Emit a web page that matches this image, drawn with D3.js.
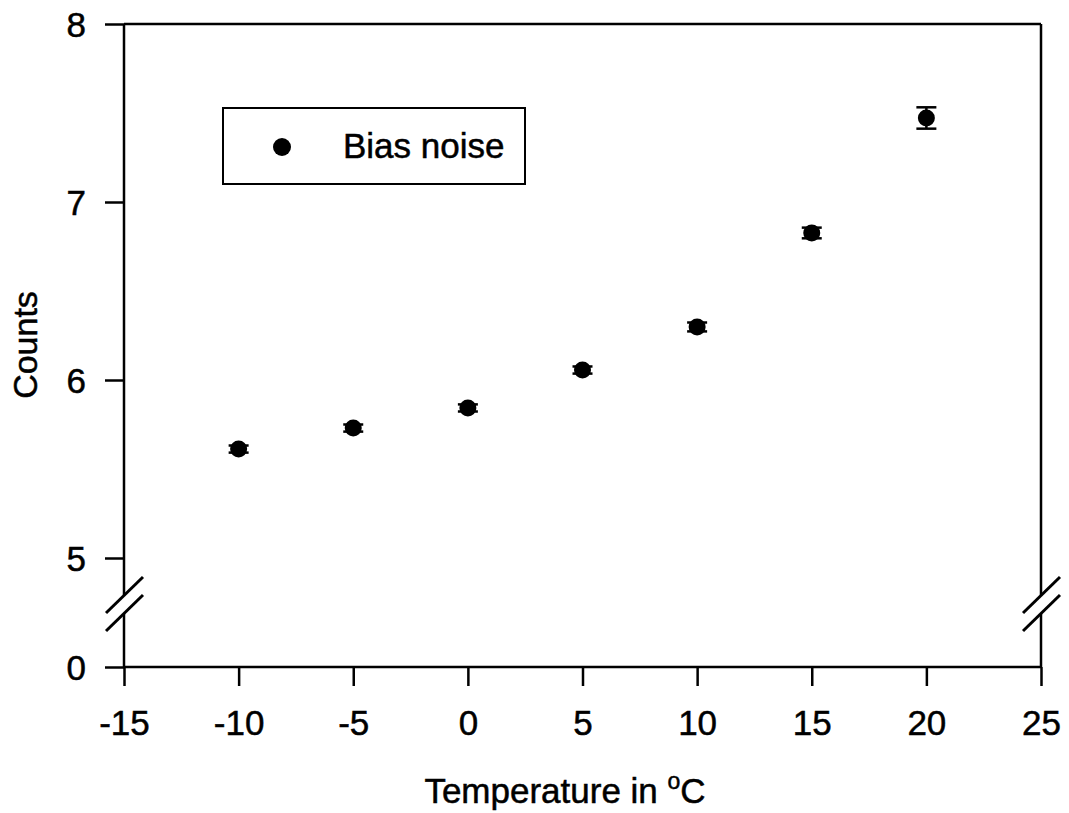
<!DOCTYPE html>
<html lang="en">
<head>
    <meta charset="UTF-8">
    <title>Bias noise vs temperature</title>
    <script src="https://d3js.org/d3.v7.min.js"></script>
    <style>
        body { margin: 0; background: #fff; }
        svg text { font-family: "Liberation Sans", Arial, sans-serif; fill: #000; stroke: #000; stroke-width: 0.5px; }
        .tick line { stroke: #000; stroke-width: 2.5; }
    </style>
</head>
<body>
<div id="fig"></div>
<script>
    // data
    let temps = [-10, -5, 0, 5, 10, 15, 20];
    let counts = [5.612, 5.73, 5.843, 6.056, 6.298, 6.826, 7.472];
    let errs = [0.02, 0.02, 0.02, 0.02, 0.025, 0.03, 0.06];
    let xTicks = [-15, -10, -5, 0, 5, 10, 15, 20, 25];
    let yTicksUpper = [5, 6, 7, 8];
    let yTicksLower = [0];

    let W = 1069, H = 813;
    let pLeft = 124, pRight = 1041, pTop = 24, pBottom = 667;
    let gapTop = 595, gapBot = 614;

    let svg = d3.select("#fig").append("svg")
        .attr("width", W).attr("height", H);

    let x = d3.scaleLinear().domain([-15, 25]).range([pLeft, pRight]);
    let yUp = d3.scaleLinear().domain([5, 8]).range([558, pTop]);
    let yLow = d3.scaleLinear().domain([0, 1]).range([pBottom, 613]);

    // frame
    let frame = svg.append("g").attr("stroke", "#000").attr("stroke-width", 2.5).attr("fill", "none");
    frame.append("line").attr("x1", pLeft).attr("x2", pRight).attr("y1", pTop).attr("y2", pTop);
    frame.append("line").attr("x1", pLeft).attr("x2", pRight).attr("y1", pBottom).attr("y2", pBottom);
    [pLeft, pRight].forEach(function (xx) {
        frame.append("line").attr("x1", xx).attr("x2", xx).attr("y1", pTop).attr("y2", gapTop);
        frame.append("line").attr("x1", xx).attr("x2", xx).attr("y1", gapBot).attr("y2", pBottom);
        // break marks
        frame.append("line").attr("x1", xx - 18).attr("y1", 613).attr("x2", xx + 19).attr("y2", 577).attr("stroke-width", 3);
        frame.append("line").attr("x1", xx - 18).attr("y1", 631).attr("x2", xx + 19).attr("y2", 595).attr("stroke-width", 3);
    });

    // axes
    let xAxis = svg.append("g").attr("transform", `translate(0,${pBottom})`)
        .call(d3.axisBottom(x).tickValues(xTicks).tickSize(19).tickPadding(24).tickFormat(d3.format("d")));
    let yAxisUp = svg.append("g").attr("transform", `translate(${pLeft},0)`)
        .call(d3.axisLeft(yUp).tickValues(yTicksUpper).tickSize(19).tickPadding(19).tickFormat(d3.format("d")));
    let yAxisLow = svg.append("g").attr("transform", `translate(${pLeft},0)`)
        .call(d3.axisLeft(yLow).tickValues(yTicksLower).tickSize(19).tickPadding(19).tickFormat(d3.format("d")));
    [xAxis, yAxisUp, yAxisLow].forEach(function (a) {
        a.select(".domain").remove();
        a.selectAll("text").style("font-size", "35px").attr("fill", "#000");
    });
    xAxis.selectAll("text").attr("dy", "0.71em");
    yAxisUp.selectAll("text").attr("dy", "0.36em");
    yAxisLow.selectAll("text").attr("dy", "0.36em");
    xAxis.selectAll("text").text(function (d) { return d < 0 ? "-" + Math.abs(d) : d; });

    // error bars
    let pts = temps.map(function (t, i) { return {t: t, c: counts[i], e: errs[i]}; });
    let eb = svg.append("g").attr("stroke", "#000").attr("stroke-width", 2.5);
    pts.forEach(function (d) {
        let cx = x(d.t);
        eb.append("line").attr("x1", cx).attr("x2", cx).attr("y1", yUp(d.c + d.e)).attr("y2", yUp(d.c - d.e));
        eb.append("line").attr("x1", cx - 10).attr("x2", cx + 10).attr("y1", yUp(d.c + d.e)).attr("y2", yUp(d.c + d.e));
        eb.append("line").attr("x1", cx - 10).attr("x2", cx + 10).attr("y1", yUp(d.c - d.e)).attr("y2", yUp(d.c - d.e));
    });
    svg.append("g").selectAll("circle").data(pts).join("circle")
        .attr("cx", function (d) { return x(d.t); })
        .attr("cy", function (d) { return yUp(d.c); })
        .attr("r", 8.5).attr("fill", "#000");

    // legend
    let lg = svg.append("g");
    lg.append("rect").attr("x", 223).attr("y", 108).attr("width", 302).attr("height", 76)
        .attr("fill", "none").attr("stroke", "#000").attr("stroke-width", 2);
    lg.append("circle").attr("cx", 282).attr("cy", 147).attr("r", 9).attr("fill", "#000");
    lg.append("text").attr("x", 343).attr("y", 158).style("font-size", "35px").text("Bias noise");

    // axis titles
    let xt = svg.append("text").attr("x", 565).attr("y", 803).attr("text-anchor", "middle").style("font-size", "35px");
    xt.append("tspan").text("Temperature in ");
    xt.append("tspan").attr("dy", -14).style("font-size", "23px").text("o");
    xt.append("tspan").attr("dy", 14).text("C");
    svg.append("text").attr("transform", "translate(37,345) rotate(-90)").attr("text-anchor", "middle")
        .style("font-size", "34px").text("Counts");
</script>
</body>
</html>
